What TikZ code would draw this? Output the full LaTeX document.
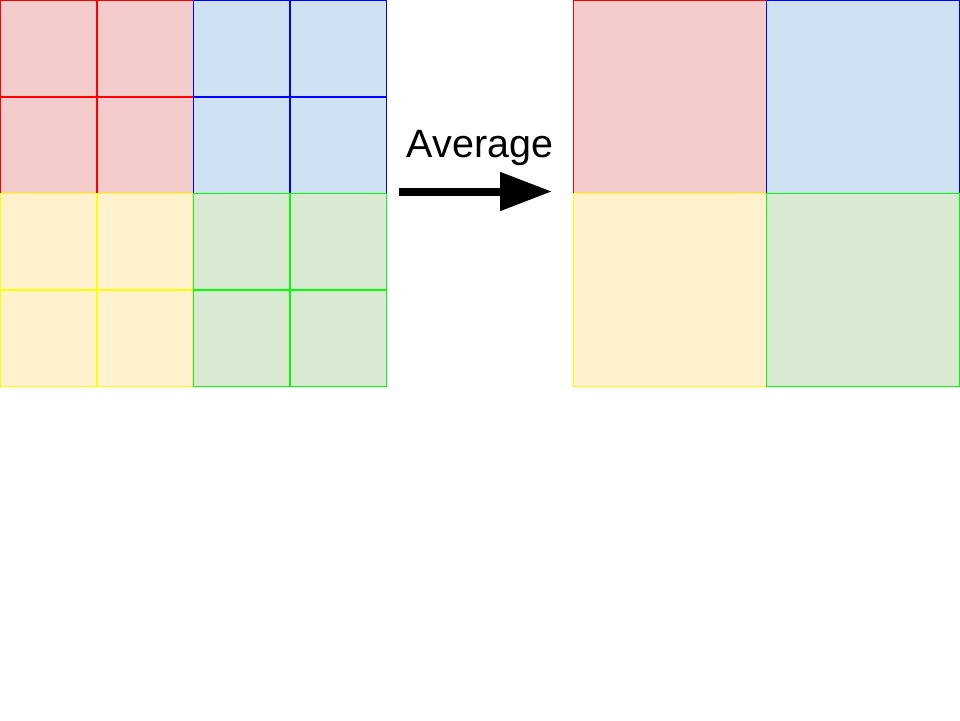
\documentclass[tikz,border=0pt]{standalone}
\usepackage{fontspec}
\setmainfont{Liberation Sans}
\usetikzlibrary{arrows.meta}
\definecolor{redfill}{HTML}{F4CCCC}
\definecolor{bluefill}{HTML}{CFE2F3}
\definecolor{yellowfill}{HTML}{FFF2CC}
\definecolor{greenfill}{HTML}{D9EAD3}
\definecolor{redline}{HTML}{FF0000}
\definecolor{blueline}{HTML}{0000FF}
\definecolor{yellowline}{HTML}{FFFF00}
\definecolor{greenline}{HTML}{00FF00}

\begin{document}
\begin{tikzpicture}[x=1pt, y=-1pt,
    border/.style={line width=1.2pt},
    arr/.style={-{Triangle[length=52pt, width=37pt]}, line width=8pt}
]
\useasboundingbox (0,0) rectangle (960,720);
% fills
\foreach \c/\x/\y in {red/0.5/0.5, blue/193.5/0.5, yellow/0.5/193.5, green/193.5/193.5,
                      red/573.5/0.5, blue/766.5/0.5, yellow/573.5/193.5, green/766.5/193.5}
  \fill[\c fill] (\x,\y) rectangle ++(193,193);
% input grid borders
\foreach \c/\x/\y in {red/0.5/0.5, blue/193.5/0.5, yellow/0.5/193.5, green/193.5/193.5}
  \draw[border, \c line] (\x,\y) rectangle ++(193,193)
    (\x+96.5,\y) -- ++(0,193) (\x,\y+96.5) -- ++(193,0);
% averaged grid borders
\foreach \c/\x/\y in {red/573.5/0.5, blue/766.5/0.5, yellow/573.5/193.5, green/766.5/193.5}
  \draw[border, \c line] (\x,\y) rectangle ++(193,193);

\node[font=\fontsize{39.5}{47}\selectfont] (label) at (480,148) {Average};
\coordinate (from) at (399,191.5);
\coordinate (to) at (552,191.5);
\draw[arr] (from) -- (to);
\end{tikzpicture}
\end{document}
